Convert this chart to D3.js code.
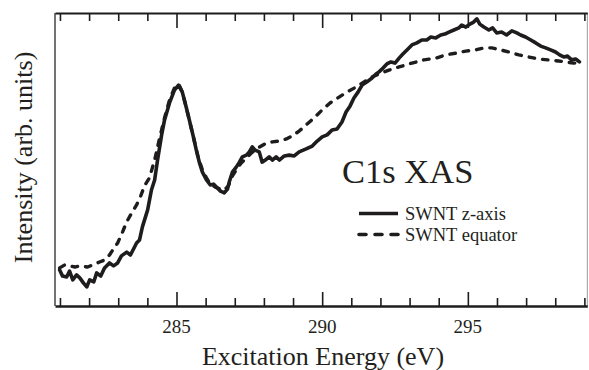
<!DOCTYPE html>
<html>
<head>
<meta charset="utf-8">
<script src="https://cdn.jsdelivr.net/npm/d3@7"></script>
<style>
  html, body { margin: 0; padding: 0; background: #fff; }
  svg { display: block; }
  text { font-family: "Liberation Serif", "Times New Roman", serif; fill: #231f20; }
</style>
</head>
<body>
<svg id="chart" width="589" height="370"></svg>
<script>
// ---- Data ----
const zAxisEnergy = [280.99,281.09,281.23,281.33,281.44,281.57,281.68,281.81,281.92,282.02,282.16,282.26,282.40,282.53,282.70,282.84,282.98,283.11,283.29,283.42,283.63,283.73,283.83,284.01,284.14,284.25,284.35,284.49,284.59,284.76,284.93,285.07,285.20,285.34,285.44,285.58,285.68,285.79,285.89,286.03,286.16,286.27,286.37,286.51,286.64,286.75,286.81,286.92,287.05,287.16,287.26,287.40,287.50,287.60,287.70,287.84,287.94,288.05,288.18,288.29,288.42,288.53,288.70,288.87,289.04,289.21,289.45,289.66,289.83,290.00,290.17,290.34,290.51,290.68,290.82,290.96,291.09,291.23,291.37,291.54,291.71,291.85,291.95,292.09,292.22,292.36,292.50,292.64,292.77,292.91,293.08,293.25,293.42,293.59,293.73,293.90,294.07,294.21,294.35,294.52,294.69,294.79,294.93,295.07,295.20,295.31,295.41,295.55,295.72,295.85,295.99,296.16,296.33,296.51,296.68,296.81,296.98,297.16,297.33,297.50,297.67,297.84,298.01,298.15,298.29,298.42,298.56,298.70,298.83];
const zAxisIntensity = [12.3,10.2,9.9,11.9,8.9,10.6,9.6,7.8,6.5,8.9,8.2,11.3,10.2,13.0,14.7,13.7,14.7,17.1,18.4,17.4,21.5,22.5,27.0,32.8,39.6,43.0,49.8,58.4,63.5,69.3,73.7,75.4,73.0,67.6,63.5,57.7,53.2,48.8,45.7,43.0,41.3,41.6,40.6,39.2,38.6,39.9,42.3,45.7,47.4,49.1,50.9,51.5,52.6,54.3,53.2,52.6,49.1,49.8,50.9,49.8,50.9,49.8,51.2,51.5,51.2,52.6,53.6,54.6,56.3,57.7,58.4,60.1,60.4,62.8,66.2,68.3,71.0,73.0,75.4,76.5,77.8,79.2,79.9,81.2,82.6,83.3,82.9,84.6,86.0,87.4,89.1,89.8,90.8,90.8,91.8,91.5,92.5,92.8,93.5,94.2,94.9,95.9,95.2,96.2,96.9,98.0,96.2,95.2,94.2,94.9,93.2,93.5,92.5,93.9,93.2,92.5,91.8,90.8,89.8,88.7,88.1,87.4,86.7,85.7,85.0,85.3,84.0,84.3,83.3];

const equatorEnergy = [280.99,281.16,281.33,281.51,281.68,281.95,282.19,282.36,282.53,282.70,282.81,282.98,283.15,283.29,283.46,283.63,283.77,283.90,284.07,284.25,284.42,284.59,284.76,284.93,285.07,285.20,285.34,285.48,285.62,285.75,285.89,286.03,286.16,286.33,286.51,286.64,286.78,286.92,287.05,287.22,287.40,287.57,287.74,287.91,288.08,288.29,288.53,288.77,288.97,289.21,289.45,289.72,290.00,290.27,290.58,290.85,291.16,291.44,291.71,292.02,292.29,292.64,293.08,293.49,293.90,294.25,294.59,294.93,295.27,295.55,295.82,296.13,296.40,296.75,297.09,297.43,297.77,298.12,298.35,298.63,298.83];
const equatorIntensity = [13.0,14.0,13.7,13.3,13.7,13.3,14.3,15.0,15.7,17.4,19.1,21.5,25.3,28.7,31.7,34.5,37.5,41.0,43.7,49.8,57.3,64.2,70.3,74.4,75.8,73.0,67.6,61.8,56.0,50.5,46.4,43.7,41.6,40.6,39.9,39.6,41.0,44.4,46.4,48.8,50.5,52.2,53.6,54.6,55.6,56.0,56.3,57.0,58.0,59.7,61.8,64.2,66.9,69.3,71.3,73.0,74.7,76.5,78.2,79.5,80.5,81.6,82.9,84.0,84.6,85.7,86.3,87.0,87.4,88.1,88.1,87.4,86.7,85.7,85.0,84.3,84.0,83.6,83.3,82.9,82.9];

const seriesNames = ["SWNT z-axis", "SWNT equator"];
const majorTicks = [285, 290, 295];
const minorTicks = [281,282,283,284,286,287,288,289,291,292,293,294,296,297,298,299];
const chartTitle = "C1s XAS";
const xTitle = "Excitation Energy (eV)";
const yTitle = "Intensity (arb. units)";

// ---- Layout ----
const svg = d3.select("#chart");
const pLeft = 55, pRight = 587.3, pTop = 13, pBottom = 306;
const x = d3.scaleLinear().domain([280.83, 299.1]).range([pLeft, pRight]);
const y = d3.scaleLinear().domain([0, 100]).range([pBottom, pTop]);
const ink = "#1e1c1d";

const zData = zAxisEnergy.map((e, i) => ({e, v: zAxisIntensity[i]}));
const eqData = equatorEnergy.map((e, i) => ({e, v: equatorIntensity[i]}));
const line = d3.line().x(d => x(d.e)).y(d => y(d.v));

// frame
svg.append("line").attr("x1", pLeft).attr("x2", pLeft).attr("y1", pTop).attr("y2", pBottom)
  .attr("stroke", "#444").attr("stroke-width", 1.5);
svg.append("line").attr("x1", pRight).attr("x2", pRight).attr("y1", pTop).attr("y2", pBottom)
  .attr("stroke", "#999").attr("stroke-width", 1);

// axes with inward ticks
const bottomMajor = d3.axisTop(x).tickValues(majorTicks).tickSize(14).tickSizeOuter(0).tickFormat("");
const bottomMinor = d3.axisTop(x).tickValues(minorTicks).tickSize(8).tickFormat("");
const topMajor = d3.axisBottom(x).tickValues(majorTicks).tickSize(15).tickSizeOuter(0).tickFormat("");
const topMinor = d3.axisBottom(x).tickValues(minorTicks).tickSize(8).tickFormat("");

function styleAxis(g, w) {
  g.select(".domain").attr("stroke", ink).attr("stroke-width", w);
  g.selectAll(".tick line").attr("stroke", ink).attr("stroke-width", 1.6);
}
svg.append("g").attr("transform", `translate(0,${pBottom})`).call(bottomMajor).call(g => styleAxis(g, 2.6));
svg.append("g").attr("transform", `translate(0,${pBottom})`).call(bottomMinor).call(g => { g.select(".domain").remove(); styleAxis(g, 0); });
svg.append("g").attr("transform", `translate(0,${pTop})`).call(topMajor).call(g => styleAxis(g, 2.2));
svg.append("g").attr("transform", `translate(0,${pTop})`).call(topMinor).call(g => { g.select(".domain").remove(); styleAxis(g, 0); });

// tick labels
svg.append("g").selectAll("text").data(majorTicks).join("text")
  .attr("x", d => x(d)).attr("y", 333)
  .attr("text-anchor", "middle").attr("font-size", 19).text(d => d);

// curves
svg.append("path").datum(eqData).attr("d", line)
  .attr("fill", "none").attr("stroke", ink).attr("stroke-width", 3.4)
  .attr("stroke-linecap", "round").attr("stroke-linejoin", "round")
  .attr("stroke-dasharray", "5.5,8");
svg.append("path").datum(zData).attr("d", line)
  .attr("fill", "none").attr("stroke", ink).attr("stroke-width", 3.6)
  .attr("stroke-linejoin", "round").attr("stroke-linecap", "round");

// chart title
svg.append("text").attr("x", 342).attr("y", 183).attr("font-size", 34.5).text(chartTitle);

// legend
const legend = svg.append("g");
const legY = [213.5, 234.5];
legend.selectAll("line").data(seriesNames).join("line")
  .attr("x1", 359).attr("x2", 398).attr("y1", (d, i) => legY[i]).attr("y2", (d, i) => legY[i])
  .attr("stroke", ink).attr("stroke-width", 3.6)
  .attr("stroke-linecap", (d, i) => i ? "round" : "butt")
  .attr("stroke-dasharray", (d, i) => i ? "7,9" : null);
legend.selectAll("text").data(seriesNames).join("text")
  .attr("x", 405).attr("y", (d, i) => legY[i] + 6)
  .attr("font-size", 18.5).text(d => d);

// axis titles
svg.append("text").attr("x", 323).attr("y", 365).attr("text-anchor", "middle")
  .attr("font-size", 26).text(xTitle);
svg.append("text").attr("transform", "translate(32,157.5) rotate(-90)")
  .attr("text-anchor", "middle").attr("font-size", 26).text(yTitle);
</script>
</body>
</html>
